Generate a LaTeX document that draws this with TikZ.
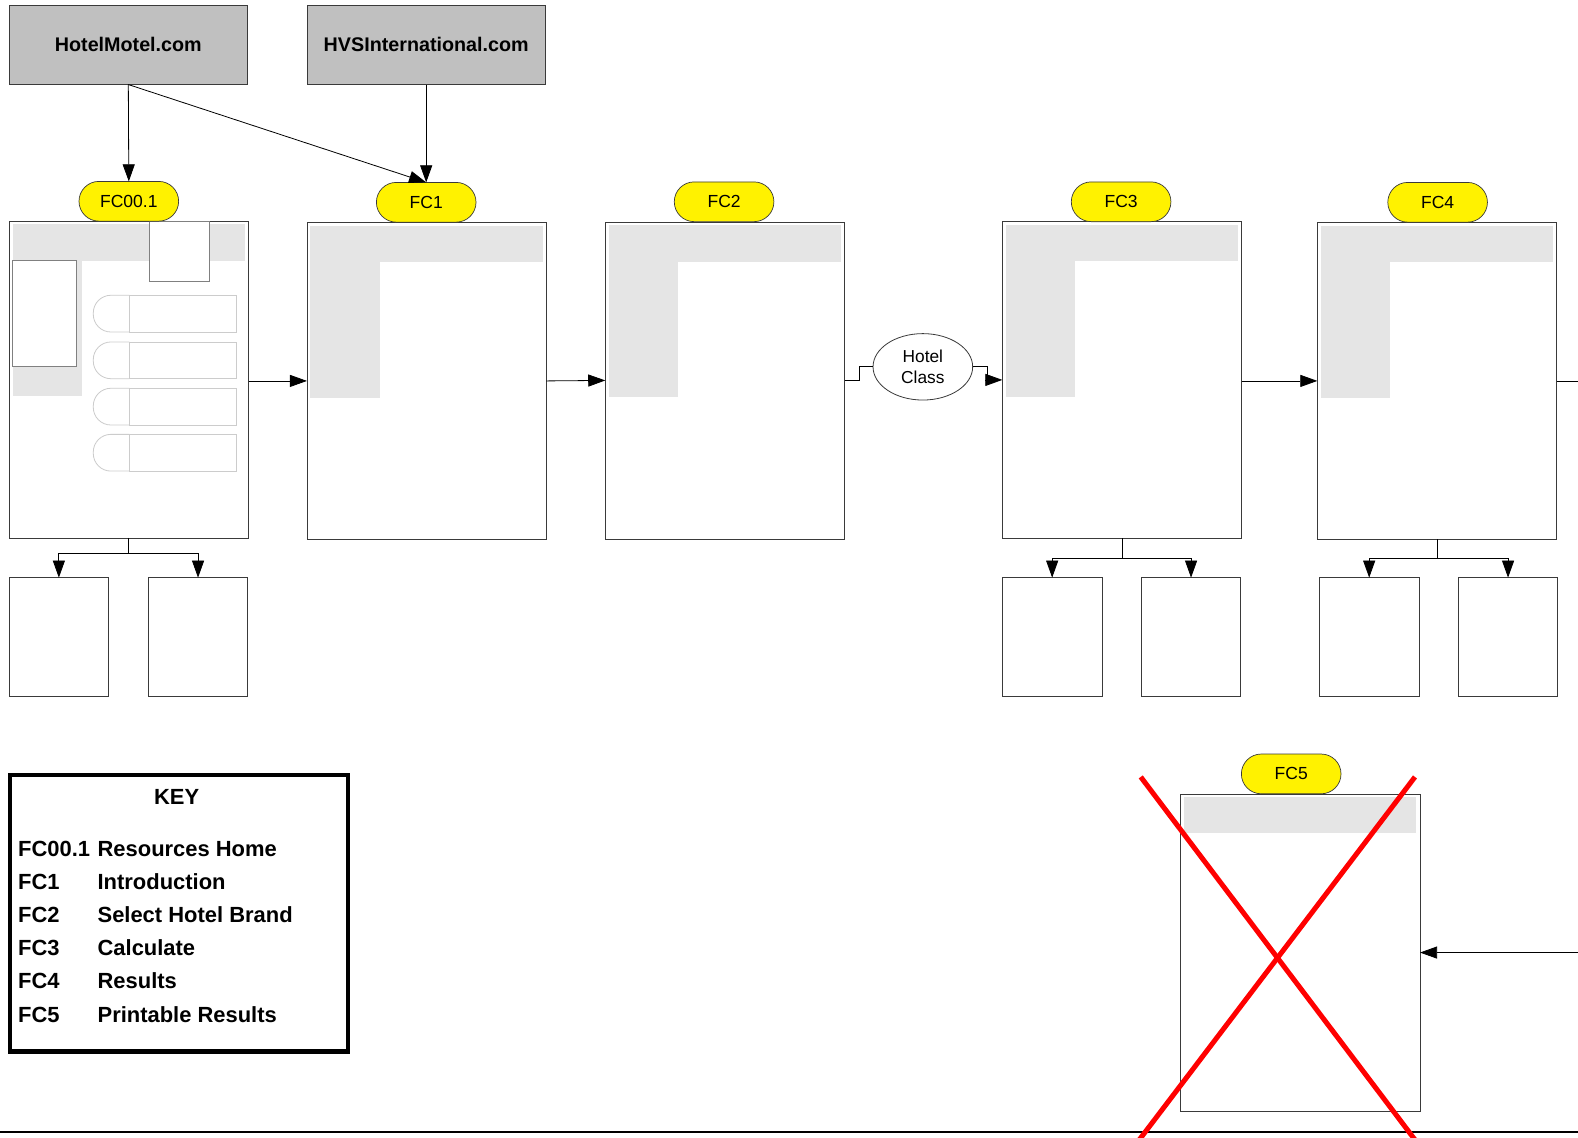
\documentclass[tikz,border=0pt]{standalone}
\usepackage{fontspec}
\setmainfont{Liberation Sans}
\usetikzlibrary{arrows.meta,shapes.misc,shapes.geometric}
\definecolor{srcgrey}{HTML}{C0C0C0}
\definecolor{panelgrey}{HTML}{E5E5E5}
\definecolor{edgegrey}{HTML}{3A3A3A}
\definecolor{ghost}{HTML}{CCCCCC}
\definecolor{midgrey}{HTML}{808080}
\begin{document}
\begin{tikzpicture}[x=1pt,y=-1pt,
  every node/.style={inner sep=0pt, outer sep=0pt},
  src/.style={draw=edgegrey, line width=0.8pt, fill=srcgrey, minimum width=237pt, minimum height=79pt, font=\bfseries\fontsize{19.6}{23}\selectfont},
  pagebox/.style={draw=edgegrey, line width=0.8pt, fill=white, minimum width=238pt, minimum height=315pt, anchor=north west},
  pill/.style={rounded rectangle, draw=edgegrey, line width=0.7pt, fill=yellow, minimum width=99pt, minimum height=39.5pt, font=\fontsize{17.4}{20}\selectfont},
  kid/.style={draw=edgegrey, line width=0.8pt, fill=white, minimum width=99pt, minimum height=117.5pt, anchor=north west},
  arr/.style={-{Triangle[length=17pt,width=12pt]}, line width=0.8pt},
  conn/.style={line width=0.8pt},
  keytxt/.style={anchor=base west, font=\bfseries\fontsize{21.8}{25}\selectfont},
  cross/.style={draw=red, line width=5pt},
]
\useasboundingbox (0,0) rectangle (1568,1130);

% source sites
\node[src] (hm) at (127.5,44.5) {HotelMotel.com};
\node[src] (hvs) at (423.5,44.5) {HVSInternational.com};

% page boxes
\node[pagebox] (pg0) at (9,219.5) {};
\node[pagebox] (pg1) at (305,221) {};
\node[pagebox] (pg2) at (601.5,220.5) {};
\node[pagebox] (pg3) at (996,220) {};
\node[pagebox] (pg4) at (1309,221) {};
\node[pagebox] (pg5) at (1173,789) {};

\foreach \p in {pg0,pg1,pg2,pg3,pg4} {
  \fill[panelgrey] ([shift={(3.5,3.5)}]\p.north west) rectangle ([shift={(-3.5,39.5)}]\p.north east);
  \fill[panelgrey] ([shift={(3.5,39)}]\p.north west) rectangle ([shift={(72.5,174)}]\p.north west);
}
\fill[panelgrey] ([shift={(3.5,3)}]pg5.north west) rectangle ([shift={(-3.5,39)}]pg5.north east);

% FC00.1 page details
\draw[draw=midgrey, fill=white, line width=0.7pt] (12.6,258.4) rectangle (76.2,364.3);
\draw[draw=midgrey, fill=white, line width=0.7pt] (148.4,220.3) rectangle (208,279.2);
\foreach \t in {293.4,339.8,385.8,431.6} {
  \draw[ghost, line width=0.8pt, rounded corners=17.5pt] (128.5,\t) -- (92.7,\t) -- (92.7,\t+36.5) -- (128.5,\t+36.5);
  \draw[ghost, line width=0.8pt] (128.5,\t) rectangle (235.2,\t+36.5);
}

% labels
\node[pill] (p0) at (128,200) {FC00.1};
\node[pill] (p1) at (423.5,201) {FC1};
\node[pill] (p2) at (719.5,200.5) {FC2};
\node[pill] (p3) at (1114,200.5) {FC3};
\node[pill] (p4) at (1428.5,201) {FC4};
\node[pill] (p5) at (1283,769) {FC5};

% child pages
\node[kid] (k0a) at (9,574) {};
\node[kid] (k0b) at (147.3,574) {};
\node[kid] (k3a) at (996,574) {};
\node[kid] (k3b) at (1134,574) {};
\node[kid] (k4a) at (1311,574) {};
\node[kid] (k4b) at (1449,574) {};

% decision ellipse
\node[ellipse, draw=edgegrey, fill=white, line width=0.8pt, minimum width=99pt, minimum height=66pt, align=center, font=\fontsize{17.2}{20.5}\selectfont] (hc) at (917,364.5) {Hotel\\Class};

% connectors
\draw[arr] (hm.south) -- (p0.north);
\draw[arr] (hm.south) -- (p1.north);
\draw[arr] (hvs.south) -- (p1.north);
\draw[arr] (pg0.east |- pg1.west) -- (pg1.west);
\draw[arr] (pg1.east) -- (pg2.west);
\draw[conn] (pg2.east) -- ++(14,0) |- (hc.west);
\draw[arr] (hc.east) -- ++(14.5,0) |- (pg3.west);
\draw[arr] (pg3.east |- pg4.west) -- (pg4.west);
\coordinate (e4) at (1568,378.5);
\draw[conn] (pg4.east) -- (e4);
\coordinate (e5) at (1568,946.5);
\draw[arr] (e5) -- (pg5.east);

\draw[conn] (pg0.south) -- ++(0,15.5) coordinate (b0);
\draw[arr] (b0) -| (k0a.north);
\draw[arr] (b0) -| (k0b.north);
\draw[conn] (pg3.south) -- ++(0,20) coordinate (b3);
\draw[arr] (b3) -| (k3a.north);
\draw[arr] (b3) -| (k3b.north);
\draw[conn] (pg4.south) -- ++(0,19) coordinate (b4);
\draw[arr] (b4) -| (k4a.north);
\draw[arr] (b4) -| (k4b.north);

% key
\node[draw=black, line width=4.5pt, minimum width=336pt, minimum height=275pt] (key) at (178,907.5) {};
\node[anchor=base, font=\bfseries\fontsize{21.8}{25}\selectfont] (keyt) at (175.5,799.2) {KEY};
\foreach \c/\d [count=\i from 0] in {FC00.1/Resources Home, FC1/Introduction, FC2/Select Hotel Brand, FC3/Calculate, FC4/Results, FC5/Printable Results} {
  \node[keytxt] (kc\i) at (18,850.6+33*\i) {\c};
  \node[keytxt] (kd\i) at (97,850.6+33*\i) {\d};
}

% bottom rule and cross
\draw[line width=2pt] (0,1124.5) -- (1568,1124.5);
\draw[cross] (1133.5,772) -- (1411.6,1140);
\draw[cross] (1406,772) -- (1126.4,1140);
\end{tikzpicture}
\end{document}
